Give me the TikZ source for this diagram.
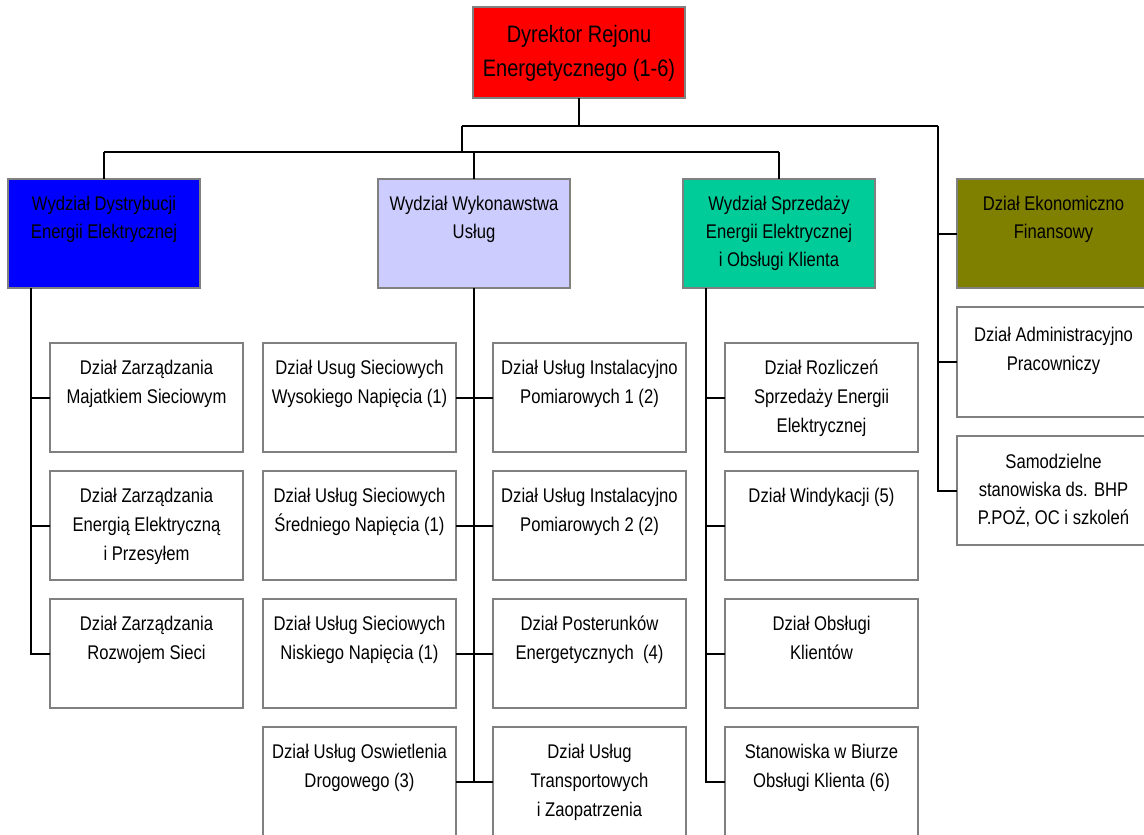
\documentclass[tikz,border=0pt]{standalone}
\usepackage{fontspec}
\setmainfont[FakeStretch=0.84]{Liberation Sans}
\definecolor{borderGray}{RGB}{128,128,128}
\definecolor{dirRed}{RGB}{255,0,0}
\definecolor{distBlue}{RGB}{0,0,255}
\definecolor{execLav}{RGB}{204,204,255}
\definecolor{saleGreen}{RGB}{0,204,153}
\definecolor{finOlive}{RGB}{128,128,0}
\tikzset{
  orgbox/.style={draw=borderGray, line width=1.7pt, fill=white, rectangle,
    minimum width=193pt, minimum height=109pt, inner sep=0pt, outer sep=0pt},
  headbox/.style={orgbox, minimum width=192pt},
  wire/.style={draw=black, line width=2pt},
  lbl/.style={anchor=north, align=center, inner sep=0pt,
    font=\fontsize{19.8}{29}\selectfont},
  hlbl/.style={lbl, font=\fontsize{19.8}{28}\selectfont},
}
\begin{document}
\begin{tikzpicture}[x=1pt, y=-1pt]
\useasboundingbox (0,0) rectangle (1144,835);
\clip (0,0) rectangle (1144,835);

% director
\node[orgbox, fill=dirRed, minimum width=212pt, minimum height=91pt] (dyr) at (579,52.5) {};
\node[align=center, inner sep=0pt, font=\fontsize{23.8}{34}\selectfont] at ([yshift=-1pt]dyr.center)
  {Dyrektor Rejonu\\Energetycznego (1-6)};

% second level
\node[headbox, fill=distBlue, anchor=north west] (dys) at (8,179) {};
\node[headbox, fill=execLav, anchor=north west] (wyk) at (378,179) {};
\node[headbox, fill=saleGreen, anchor=north west] (spr) at (683,179) {};
\node[orgbox, fill=finOlive, anchor=north west] (eko) at (957,179) {};
\node[hlbl] at ([yshift=-12pt]dys.north) {\strut Wydział Dystrybucji\\Energii Elektrycznej};
\node[hlbl] at ([yshift=-12pt]wyk.north) {\strut Wydział Wykonawstwa\\Usług};
\node[hlbl] at ([yshift=-12pt]spr.north) {\strut Wydział Sprzedaży\\Energii Elektrycznej\\i Obsługi Klienta};
\node[hlbl] at ([yshift=-12pt]eko.north) {\strut Dział Ekonomiczno\\Finansowy};

% standalone units on the right
\node[orgbox, anchor=north west, minimum height=110pt] (adm) at (957,307) {};
\node[orgbox, anchor=north west] (sam) at (957,436) {};
\node[lbl] at ([yshift=-14pt]adm.north) {\strut Dział Administracyjno\\Pracowniczy};
\node[hlbl] at ([yshift=-13pt]sam.north) {\strut Samodzielne\\stanowiska ds. BHP\\P.POŻ, OC i szkoleń};

% distribution departments
\node[orgbox, anchor=north west] (z1) at (50,343) {};
\node[orgbox, anchor=north west] (z2) at (50,471) {};
\node[orgbox, anchor=north west] (z3) at (50,599) {};
\node[lbl] at ([yshift=-11pt]z1.north) {\strut Dział Zarządzania\\Majatkiem Sieciowym};
\node[lbl] at ([yshift=-11pt]z2.north) {\strut Dział Zarządzania\\Energią Elektryczną\\i Przesyłem};
\node[lbl] at ([yshift=-11pt]z3.north) {\strut Dział Zarządzania\\Rozwojem Sieci};

% service departments, left side
\node[orgbox, anchor=north west] (u1) at (263,343) {};
\node[orgbox, anchor=north west] (u2) at (263,471) {};
\node[orgbox, anchor=north west] (u3) at (263,599) {};
\node[orgbox, anchor=north west] (u4) at (263,727) {};
\node[lbl] at ([yshift=-11pt]u1.north) {\strut Dział Usug Sieciowych\\Wysokiego Napięcia (1)};
\node[lbl] at ([yshift=-11pt]u2.north) {\strut Dział Usług Sieciowych\\Średniego Napięcia (1)};
\node[lbl] at ([yshift=-11pt]u3.north) {\strut Dział Usług Sieciowych\\Niskiego Napięcia (1)};
\node[lbl] at ([yshift=-11pt]u4.north) {\strut Dział Usług Oswietlenia\\Drogowego (3)};

% service departments, right side
\node[orgbox, anchor=north west] (p1) at (493,343) {};
\node[orgbox, anchor=north west] (p2) at (493,471) {};
\node[orgbox, anchor=north west] (p3) at (493,599) {};
\node[orgbox, anchor=north west] (p4) at (493,727) {};
\node[lbl] at ([yshift=-11pt]p1.north) {\strut Dział Usług Instalacyjno\\Pomiarowych 1 (2)};
\node[lbl] at ([yshift=-11pt]p2.north) {\strut Dział Usług Instalacyjno\\Pomiarowych 2 (2)};
\node[lbl] at ([yshift=-11pt]p3.north) {\strut Dział Posterunków\\Energetycznych~~(4)};
\node[lbl] at ([yshift=-11pt]p4.north) {\strut Dział Usług\\Transportowych\\i Zaopatrzenia};

% sales departments
\node[orgbox, anchor=north west] (s1) at (725,343) {};
\node[orgbox, anchor=north west] (s2) at (725,471) {};
\node[orgbox, anchor=north west] (s3) at (725,599) {};
\node[orgbox, anchor=north west] (s4) at (725,727) {};
\node[lbl] at ([yshift=-11pt]s1.north) {\strut Dział Rozliczeń\\Sprzedaży Energii\\Elektrycznej};
\node[lbl] at ([yshift=-11pt]s2.north) {\strut Dział Windykacji (5)};
\node[lbl] at ([yshift=-11pt]s3.north) {\strut Dział Obsługi\\Klientów};
\node[lbl] at ([yshift=-11pt]s4.north) {\strut Stanowiska w Biurze\\Obsługi Klienta (6)};

% junction points of the connector tree
\coordinate (j1) at (462,126);
\coordinate (j2) at (938,126);
\coordinate (j3) at (462,152);
\coordinate (vL) at (31,288);
\coordinate (vR) at (706,288);

% top-level connectors
\draw[wire] (dyr.south) -- (dyr.south |- j1);
\draw[wire] (j1) -- (j2);
\draw[wire] (j1) -- (j3);
\draw[wire] (dys.north |- j3) -- (spr.north |- j3);
\draw[wire] (dys.north |- j3) -- (dys.north);
\draw[wire] (wyk.north |- j3) -- (wyk.north);
\draw[wire] (spr.north |- j3) -- (spr.north);

% right-hand branch
\draw[wire] (j2) |- (sam.west);
\draw[wire] (eko.west -| j2) -- (eko.west);
\draw[wire] (adm.west -| j2) -- (adm.west);

% distribution branch
\draw[wire] (vL) |- (z3.west);
\draw[wire] (z1.west -| vL) -- (z1.west);
\draw[wire] (z2.west -| vL) -- (z2.west);

% services branch
\draw[wire] (wyk.south) -- (wyk.south |- u4.east);
\draw[wire] (u1.east) -- (p1.west);
\draw[wire] (u2.east) -- (p2.west);
\draw[wire] (u3.east) -- (p3.west);
\draw[wire] (u4.east) -- (p4.west);

% sales branch
\draw[wire] (vR) |- (s4.west);
\draw[wire] (s1.west -| vR) -- (s1.west);
\draw[wire] (s2.west -| vR) -- (s2.west);
\draw[wire] (s3.west -| vR) -- (s3.west);
\end{tikzpicture}
\end{document}
